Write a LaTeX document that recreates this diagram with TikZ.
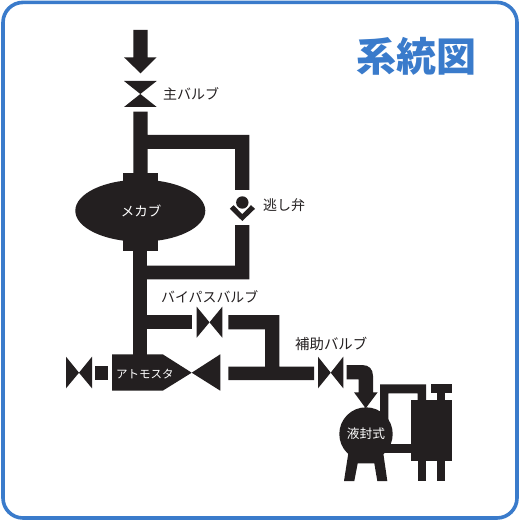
\documentclass[tikz,border=0pt]{standalone}
\usepackage{fontspec}
\setmainfont{Noto Sans CJK JP}
\definecolor{ink}{HTML}{231F20}
\definecolor{frameblue}{HTML}{3A7BCB}
\tikzset{
  part/.style={fill=ink,draw=none},
  lbl/.style={inner sep=0pt,text=ink},
  lblw/.style={inner sep=0pt,text=white},
}
\newcommand{\fsz}[1]{\fontsize{#1}{#1}\selectfont}
\begin{document}
\begin{tikzpicture}[x=1pt,y=-1pt]
\useasboundingbox (0,0) rectangle (521,521);
\fill[white] (0,0) rectangle (521,521);
\draw[frameblue,line width=3.6pt,rounded corners=20pt] (3,2.4) rectangle (517,518);
\node[inner sep=0pt,text=frameblue,font=\fsz{40}\bfseries] (title) at (416,56) {系統図};
% inlet arrow
\fill[part] (133.3,30) -- (147.7,30) -- (147.7,57.3) -- (156.7,57.3) -- (140.5,73.3) -- (124,57.3) -- (133.3,57.3) -- cycle;
% main valve
\fill[part] (124,81) -- (156.7,81) -- (124,107) -- (156.7,107) -- cycle;
\node[lbl,font=\fsz{14},anchor=west] (mainv) at (163,94) {主バルブ};
% main pipe and relief branch
\fill[part] (133.3,111.7) -- (147.7,111.7) -- (147.7,135) -- (249.3,135) -- (249.3,190) -- (235,190) -- (235,149) -- (147.7,149) -- (147.7,173.3) -- (133.3,173.3) -- cycle;
% mechanical
\fill[part] (140.3,210.7) ellipse [x radius=65,y radius=31];
\fill[part] (123,173.3) rectangle (157.7,250.7);
\fill[part] (133.3,250) rectangle (147.3,356);
\node[lblw,font=\fsz{13.5}] (mech) at (141,211) {メカブ};
% relief valve
\fill[part] (242.3,202.5) circle [radius=6.2];
\fill[part] (229.8,208.8) -- (233.6,205.2) -- (242.3,214.2) -- (251,205.2) -- (255,208.8) -- (242.3,221) -- cycle;
\node[lbl,font=\fsz{14},anchor=west] (relief) at (263,205) {逃し弁};
% lower return
\fill[part] (235,225) -- (249.3,225) -- (249.3,279.3) -- (147,279.3) -- (147,265.7) -- (235,265.7) -- cycle;
% bypass
\fill[part] (147,315) rectangle (191.7,329.3);
\fill[part] (196.7,306.7) -- (209.5,322.3) -- (196.7,337.7) -- cycle;
\fill[part] (222.3,306.7) -- (209.5,322.3) -- (222.3,337.7) -- cycle;
\node[lbl,font=\fsz{13.9},anchor=west] (bypass) at (161,297) {バイパスバルブ};
\fill[part] (228.3,315) -- (279.3,315) -- (279.3,366.7) -- (314,366.7) -- (314,380) -- (228.3,380) -- (228.3,366.7) -- (265,366.7) -- (265,329.3) -- (228.3,329.3) -- cycle;
% atmosta
\fill[part] (112,354.3) -- (162.7,354.3) -- (191.7,372.7) -- (162.7,390.7) -- (112,390.7) -- cycle;
\fill[part] (191.7,372.7) -- (220.3,354.3) -- (220.3,390.7) -- cycle;
\node[lblw,font=\fsz{11.5},anchor=west] (atm) at (116,374) {アトモスタ};
\fill[part] (94.7,365.7) rectangle (108.3,379.7);
\fill[part] (66,356.7) -- (79,372.7) -- (66,388.3) -- cycle;
\fill[part] (92,356.7) -- (79,372.7) -- (92,388.3) -- cycle;
% auxiliary valve
\fill[part] (318,356.7) -- (330.7,372.7) -- (318,388.3) -- cycle;
\fill[part] (343.3,356.7) -- (330.7,372.7) -- (343.3,388.3) -- cycle;
\node[lbl,font=\fsz{14.4},anchor=west] (aux) at (295,344) {補助バルブ};
% aux pipe with arrow
\fill[part] (346.7,365) -- (362,365) .. controls (369,365) and (373,369) .. (373,376) -- (373,392.3) -- (377.7,392.3) -- (365.7,408.3) -- (354,392.3) -- (358.7,392.3) -- (358.7,379.3) -- (346.7,379.3) -- cycle;
% pump
\fill[part] (366,434) circle [radius=26.7];
\fill[part] (348.3,453.3) -- (344,481) -- (354.3,481) -- (357.7,463.3) -- (374.3,463.3) -- (377.3,481) -- (387.3,481) -- (383.3,453.3) -- cycle;
\node[lblw,font=\fsz{12.7}] (pump) at (366,434) {液封式};
% tank and pipes
\fill[part] (410.7,400) rectangle (452,461);
\fill[part] (380,420) -- (380,384.3) -- (426,384.3) -- (426,400) -- (417.7,400) -- (417.7,393.3) -- (388.3,393.3) -- (388.3,420) -- cycle;
\fill[part] (430.7,384.3) rectangle (452,393.3);
\fill[part] (436.7,393) rectangle (445,400.5);
\fill[part] (385,444.3) rectangle (411,453.3);
\fill[part] (417.7,460) rectangle (426,481);
\fill[part] (436.7,460) rectangle (445,481);
\end{tikzpicture}
\end{document}
